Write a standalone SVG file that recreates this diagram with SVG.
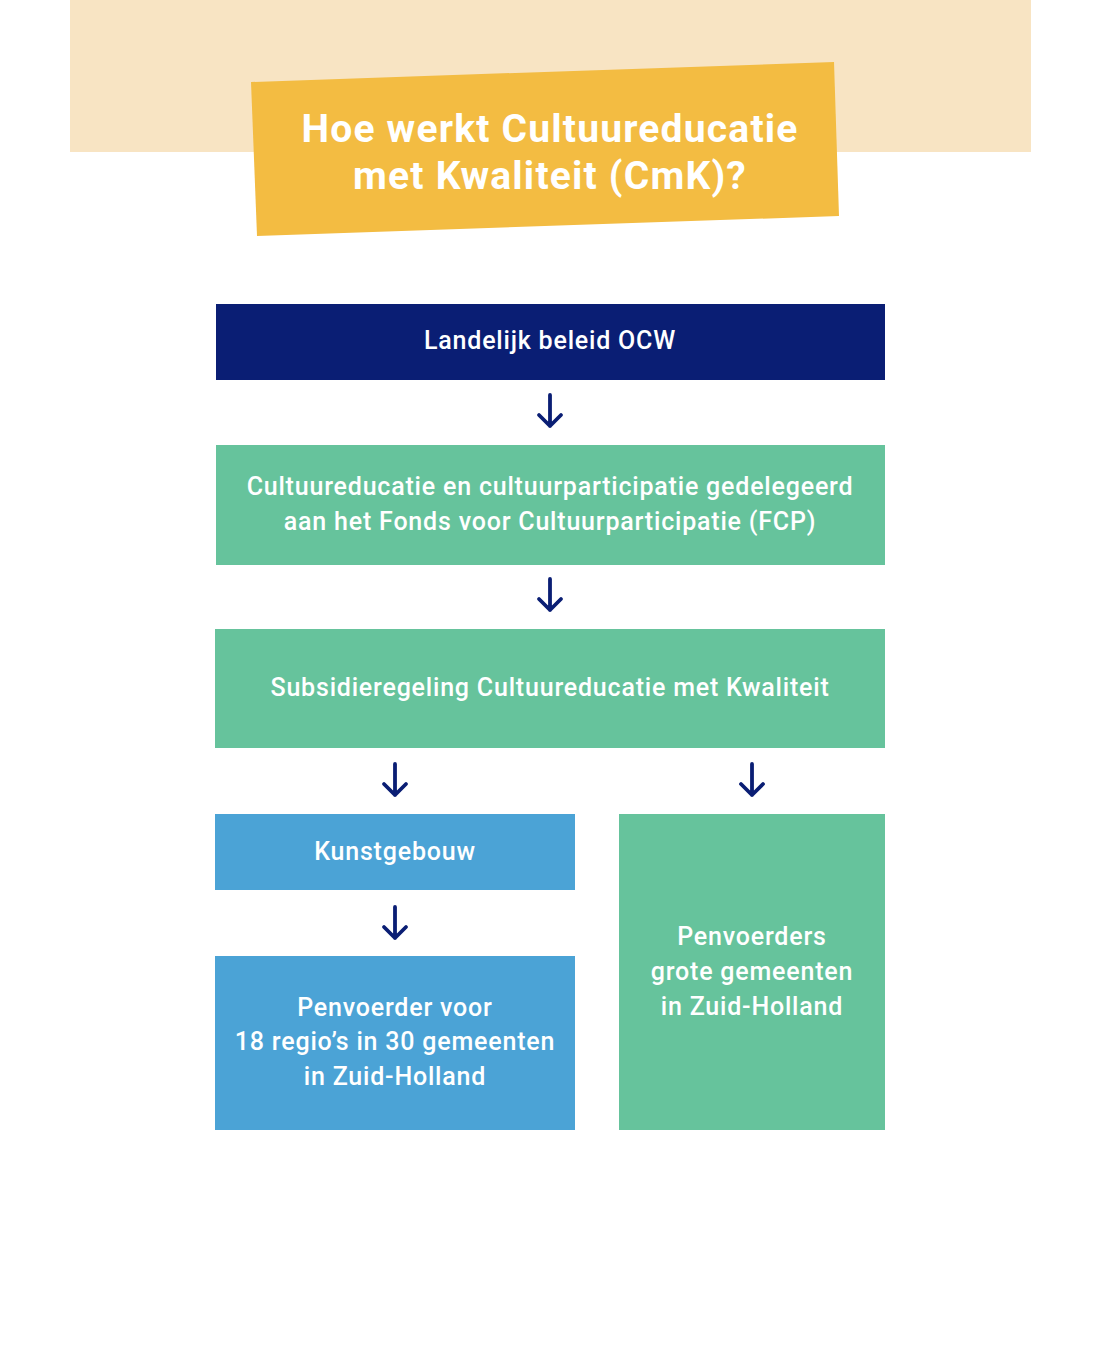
<svg xmlns="http://www.w3.org/2000/svg" width="1101" height="1350" viewBox="0 0 1101 1350">
<style>
.t{font-family:Roboto,"Liberation Sans",sans-serif;font-weight:500;font-size:25px;letter-spacing:0.8px;fill:#ffffff;text-anchor:middle}
.h{font-family:Roboto,"Liberation Sans",sans-serif;font-weight:700;font-size:39px;letter-spacing:1.2px;fill:#ffffff;text-anchor:middle}
.navy{fill:#0a1e74}
.green{fill:#66c39c}
.blue{fill:#4ba3d6}
.arr{fill:none;stroke:#0a1e74;stroke-width:3.8;stroke-linecap:round;stroke-linejoin:round}
</style>
<rect width="1101" height="1350" fill="#ffffff"/>
<rect x="70" y="0" width="961" height="152" fill="#f8e4c3"/>
<g id="title">
<polygon points="251,82 834,62 839,216 257,236" fill="#f3bc42"/>
<text class="h" x="550" y="142">Hoe werkt Cultuureducatie</text>
<text class="h" x="550" y="189">met Kwaliteit (CmK)?</text>
</g>
<g id="ocw">
<rect class="navy" x="216" y="304" width="669" height="76"/>
<text class="t" x="550" y="349">Landelijk beleid OCW</text>
</g>
<g id="fcp">
<rect class="green" x="216" y="445" width="669" height="120"/>
<text class="t" x="550" y="495">Cultuureducatie en cultuurparticipatie gedelegeerd</text>
<text class="t" x="550" y="530">aan het Fonds voor Cultuurparticipatie (FCP)</text>
</g>
<g id="cmk">
<rect class="green" x="215" y="629" width="670" height="119"/>
<text class="t" x="550" y="696">Subsidieregeling Cultuureducatie met Kwaliteit</text>
</g>
<g id="kunstgebouw">
<rect class="blue" x="215" y="814" width="360" height="76"/>
<text class="t" x="395" y="860">Kunstgebouw</text>
</g>
<g id="penvoerder">
<rect class="blue" x="215" y="956" width="360" height="174"/>
<text class="t" x="395" y="1016">Penvoerder voor</text>
<text class="t" x="395" y="1050">18 regio’s in 30 gemeenten</text>
<text class="t" x="395" y="1085">in Zuid-Holland</text>
</g>
<g id="grote">
<rect class="green" x="619" y="814" width="266" height="316"/>
<text class="t" x="752" y="945">Penvoerders</text>
<text class="t" x="752" y="980">grote gemeenten</text>
<text class="t" x="752" y="1015">in Zuid-Holland</text>
</g>
<g id="connectors">
<path class="arr" d="M550,395 V426 M539,415 L550,426 L561,415"/>
<path class="arr" d="M550,579 V610 M539,599 L550,610 L561,599"/>
<path class="arr" d="M395,764 V795 M384,784 L395,795 L406,784"/>
<path class="arr" d="M752,764 V795 M741,784 L752,795 L763,784"/>
<path class="arr" d="M395,907 V938 M384,927 L395,938 L406,927"/>
</g>
</svg>
